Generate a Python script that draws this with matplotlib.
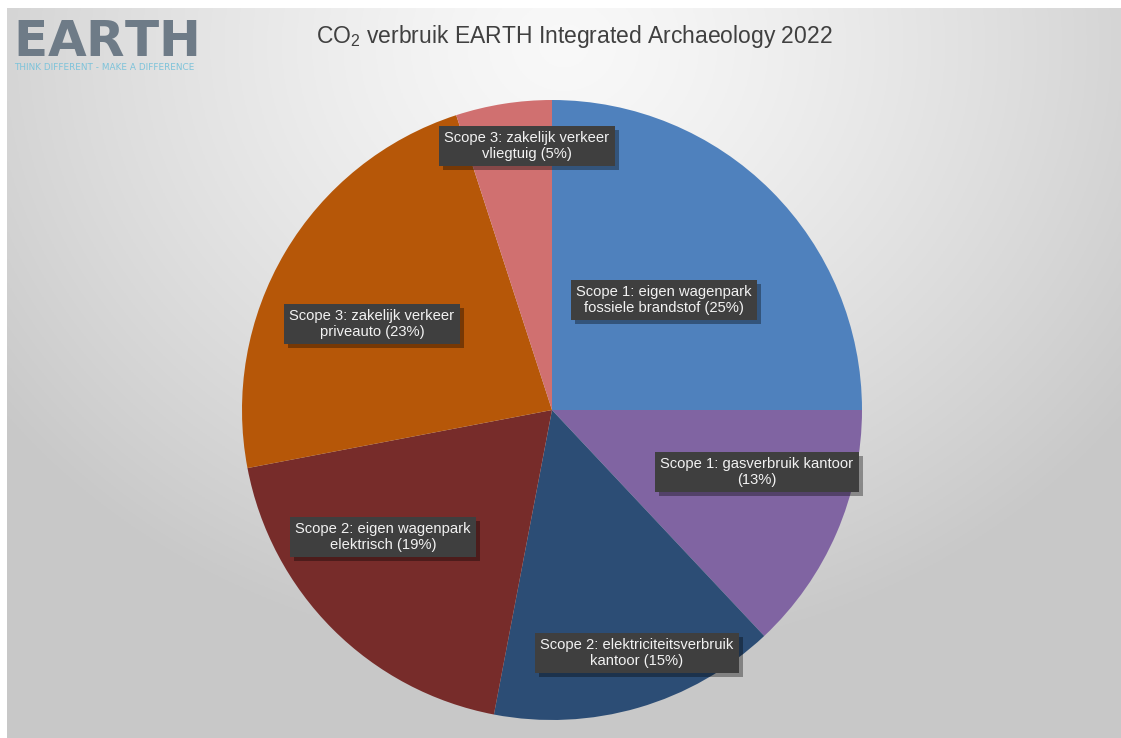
import numpy as np
import matplotlib
matplotlib.use("Agg")
import matplotlib.pyplot as plt
from matplotlib import patheffects

# ---- data ----
categories = [
    "Scope 1: eigen wagenpark\nfossiele brandstof",
    "Scope 1: gasverbruik kantoor\n",
    "Scope 2: elektriciteitsverbruik\nkantoor",
    "Scope 2: eigen wagenpark\nelektrisch",
    "Scope 3: zakelijk verkeer\npriveauto",
    "Scope 3: zakelijk verkeer\nvliegtuig",
]
values = [25, 13, 15, 19, 23, 5]
colors = ["#4F81BD", "#8064A2", "#2C4D75", "#772C2A", "#B65708", "#D07070"]
# label anchor positions in pie-radius units (layout only)
label_pos = [(0.361, 0.355), (0.661, -0.20), (0.274, -0.784),
             (-0.545, -0.41), (-0.581, 0.277), (-0.081, 0.852)]
title = r"$\mathregular{CO_2}$ verbruik EARTH Integrated Archaeology 2022"
logo = r"$\mathregular{EARTH}$"
tagline = "THINK DIFFERENT - MAKE A DIFFERENCE"

W, H = 1121, 738
fig = plt.figure(figsize=(W / 100, H / 100), dpi=100)
fig.patch.set_facecolor("white")

# background radial gradient
bg = fig.add_axes([7 / W, 0, 1 - 7 / W, 1 - 8 / H])
bg.set_axis_off()
yy, xx = np.mgrid[0:1:300j, 0:1:450j]
d = np.sqrt(((xx - 0.5) / 0.75) ** 2 + ((yy - 0.05) / 1.0) ** 2)
d = np.clip(d / 0.85, 0, 1)
g = 0.975 - 0.19 * d ** 1.3
img = np.dstack([g, g, g])
bg.imshow(img, aspect="auto", extent=[0, 1, 0, 1], origin="upper")
bg.set_xlim(0, 1)
bg.set_ylim(0, 1)

# logo
fig.text(13 / W, 1 - 56 / H, logo, fontsize=36, fontweight="bold",
         color="#6E7B87", family="DejaVu Sans", va="baseline", ha="left")
fig.text(14 / W, 1 - 67 / H, tagline,
         fontsize=6.4, color="#7DC3DA", family="DejaVu Sans", va="center", ha="left")

# title
fig.text(574 / W, 1 - 37 / H, title, fontsize=16.5, color="#404040",
         family="Liberation Sans", ha="center", va="center")

# pie
cx, cy, r = 552, 410, 310
ax = fig.add_axes([(cx - r) / W, 1 - (cy + r) / H, 2 * r / W, 2 * r / H])
ax.pie(values, colors=colors, startangle=90, counterclock=False, radius=1,
       wedgeprops=dict(linewidth=0))
ax.set_xlim(-1, 1)
ax.set_ylim(-1, 1)
ax.set_aspect("equal")
ax.set_axis_off()

total = sum(values)
for cat, v, (lx, ly) in zip(categories, values, label_pos):
    name = cat.rstrip("\n")
    pct = round(100 * v / total)
    txt = f"{name}\n({pct}%)" if cat.endswith("\n") else f"{name} ({pct}%)"
    t = ax.text(lx, ly, txt, ha="center", va="center", fontsize=10.6,
                color="#F2F2F2", family="Liberation Sans", linespacing=1.15,
                bbox=dict(boxstyle="square,pad=0.35", fc="#3F3F3F", ec="none"))
    t.get_bbox_patch().set_path_effects(
        [patheffects.SimplePatchShadow(offset=(3, -3), shadow_rgbFace="black", alpha=0.35),
         patheffects.Normal()])

fig.savefig("out.png", dpi=100)
